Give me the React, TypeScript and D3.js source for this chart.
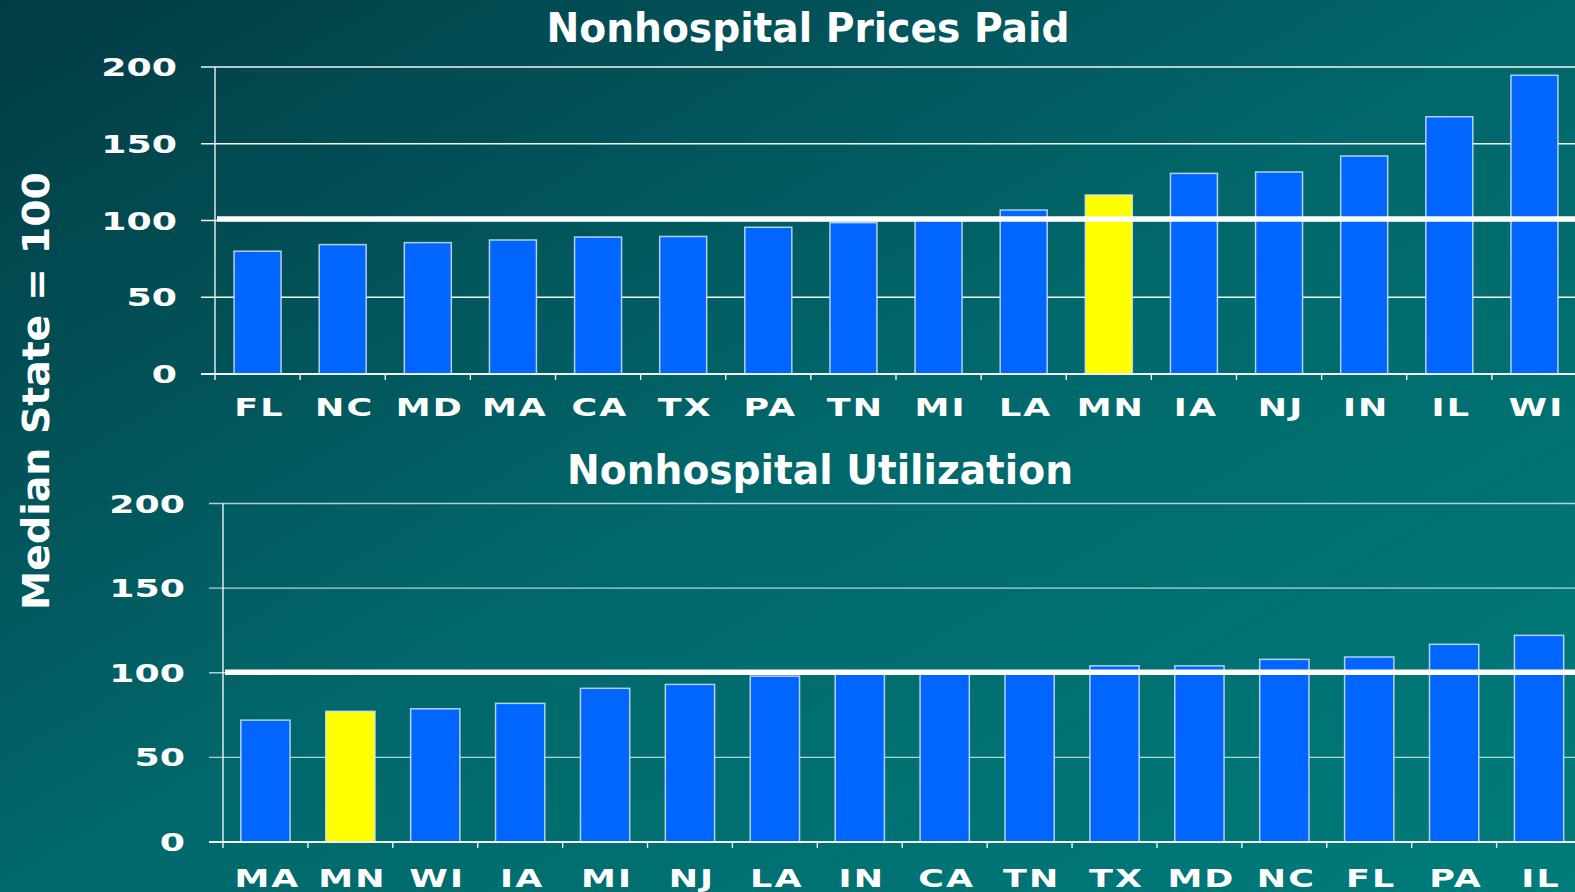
import { useEffect, useRef } from "react"
import * as d3 from "d3"

// Top panel: Nonhospital Prices Paid (Median State = 100)
const priceStates = ["FL", "NC", "MD", "MA", "CA", "TX", "PA", "TN", "MI", "LA", "MN", "IA", "NJ", "IN", "IL", "WI"]
const priceValues = [80, 84.3, 85.6, 87.3, 89.2, 89.6, 95.6, 98.6, 100, 106.8, 116.6, 130.7, 131.6, 142, 167.6, 194.6]
const priceMedianLine = 101

// Bottom panel: Nonhospital Utilization
const utilStates = ["MA", "MN", "WI", "IA", "MI", "NJ", "LA", "IN", "CA", "TN", "TX", "MD", "NC", "FL", "PA", "IL"]
const utilValues = [72, 77.2, 78.7, 81.9, 90.8, 93.1, 98, 100, 100, 100, 104.1, 104.1, 107.9, 109.3, 116.8, 122.1]
const utilMedianLine = 100.3

const yTicks = [0, 50, 100, 150, 200]
const highlightState = "MN"

const W = 1575
const H = 892

type Panel = {
  title: string
  states: string[]
  values: number[]
  median: number
  axisX: number
  rangeEnd: number
  yBottom: number
  yTop: number
  padding: number
  labelY: number
  titleX: number
  titleY: number
  titleLen: number
  gridOpacity: number
}

const panels: Panel[] = [
  {
    title: "Nonhospital Prices Paid",
    states: priceStates,
    values: priceValues,
    median: priceMedianLine,
    axisX: 215,
    rangeEnd: 1577,
    yBottom: 374,
    yTop: 67,
    padding: 0.448,
    labelY: 416,
    titleX: 808,
    titleY: 42,
    titleLen: 523,
    gridOpacity: 0.95,
  },
  {
    title: "Nonhospital Utilization",
    states: utilStates,
    values: utilValues,
    median: utilMedianLine,
    axisX: 223,
    rangeEnd: 1581.5,
    yBottom: 842,
    yTop: 503.5,
    padding: 0.42,
    labelY: 887,
    titleX: 820,
    titleY: 484,
    titleLen: 506,
    gridOpacity: 0.7,
  },
]

const FONT = "'DejaVu Sans', Verdana, sans-serif"

export default function App() {
  const svgRef = useRef<SVGSVGElement>(null)

  useEffect(() => {
    if (!svgRef.current) return
    const svg = d3.select(svgRef.current)
    svg.selectAll("*").remove()

    // Background gradient
    const defs = svg.append("defs")
    const bg = defs
      .append("linearGradient")
      .attr("id", "bg")
      .attr("x1", "0%")
      .attr("y1", "0%")
      .attr("x2", "100%")
      .attr("y2", "100%")
    bg.append("stop").attr("offset", "0%").attr("stop-color", "#023b44")
    bg.append("stop").attr("offset", "50%").attr("stop-color", "#01676a")
    bg.append("stop").attr("offset", "100%").attr("stop-color", "#007c7b")
    svg.append("rect").attr("width", W).attr("height", H).attr("fill", "url(#bg)")

    // Y axis title
    svg
      .append("text")
      .attr("transform", "translate(49,391) rotate(-90)")
      .attr("text-anchor", "middle")
      .attr("fill", "#ffffff")
      .attr("font-family", FONT)
      .attr("font-weight", "bold")
      .attr("font-size", 37)
      .attr("textLength", 438)
      .attr("lengthAdjust", "spacingAndGlyphs")
      .text("Median State = 100")

    panels.forEach((p) => {
      const g = svg.append("g")

      const x = d3
        .scaleBand()
        .domain(p.states)
        .range([p.axisX, p.rangeEnd])
        .paddingInner(p.padding)
        .paddingOuter(p.padding / 2)

      const y = d3.scaleLinear().domain([0, 200]).range([p.yBottom, p.yTop])

      // title
      g.append("text")
        .attr("x", p.titleX)
        .attr("y", p.titleY)
        .attr("text-anchor", "middle")
        .attr("fill", "#ffffff")
        .attr("font-family", FONT)
        .attr("font-weight", "bold")
        .attr("font-size", 40)
        .attr("textLength", p.titleLen)
        .attr("lengthAdjust", "spacingAndGlyphs")
        .text(p.title)

      // grid lines + y ticks
      g.selectAll(".grid")
        .data(yTicks)
        .enter()
        .append("line")
        .attr("x1", p.axisX - 14)
        .attr("x2", W)
        .attr("y1", (d) => y(d))
        .attr("y2", (d) => y(d))
        .attr("stroke", "#ffffff")
        .attr("stroke-opacity", (d) => (d === 0 ? 1 : p.gridOpacity))
        .attr("stroke-width", 1.3)

      // y tick labels
      g.selectAll(".ylab")
        .data(yTicks)
        .enter()
        .append("text")
        .attr("transform", (d) => `translate(${p.axisX - 38},${y(d) + 9}) scale(1.45,1)`)
        .attr("text-anchor", "end")
        .attr("fill", "#ffffff")
        .attr("font-family", FONT)
        .attr("font-weight", "bold")
        .attr("font-size", 25)
        .text((d) => String(d))

      // bars
      const bars = p.states.map((s, i) => ({ state: s, value: p.values[i] }))
      g.selectAll(".bar")
        .data(bars)
        .enter()
        .append("rect")
        .attr("x", (d) => x(d.state) || 0)
        .attr("width", x.bandwidth())
        .attr("y", (d) => y(d.value))
        .attr("height", (d) => p.yBottom - y(d.value))
        .attr("fill", (d) => (d.state === highlightState ? "#ffff00" : "#0066ff"))
        .attr("stroke", "#d4e2f2")
        .attr("stroke-opacity", 0.85)
        .attr("stroke-width", 1.5)

      // baseline over bars
      g.append("line")
        .attr("x1", p.axisX - 14)
        .attr("x2", W)
        .attr("y1", p.yBottom)
        .attr("y2", p.yBottom)
        .attr("stroke", "#ffffff")
        .attr("stroke-width", 1.3)

      // y axis line
      g.append("line")
        .attr("x1", p.axisX)
        .attr("x2", p.axisX)
        .attr("y1", p.yTop)
        .attr("y2", p.yBottom + 6)
        .attr("stroke", "#ffffff")
        .attr("stroke-width", 1.3)

      // x ticks at band edges
      const edges = p.states.map((s) => (x(s) || 0) + x.bandwidth() / 2 - x.step() / 2)
      g.selectAll(".xtick")
        .data(edges.slice(1))
        .enter()
        .append("line")
        .attr("x1", (d) => d)
        .attr("x2", (d) => d)
        .attr("y1", p.yBottom)
        .attr("y2", p.yBottom + 6)
        .attr("stroke", "#ffffff")
        .attr("stroke-width", 1.3)

      // category labels
      g.selectAll(".xlab")
        .data(p.states)
        .enter()
        .append("text")
        .attr("transform", (d) => `translate(${(x(d) || 0) + x.bandwidth() / 2 + 2},${p.labelY}) scale(1.4,1)`)
        .attr("text-anchor", "middle")
        .attr("fill", "#ffffff")
        .attr("font-family", FONT)
        .attr("font-weight", "bold")
        .attr("font-size", 25)
        .attr("letter-spacing", 1.5)
        .text((d) => d)

      // median reference line
      g.append("line")
        .attr("x1", p.axisX + 2)
        .attr("x2", W)
        .attr("y1", y(p.median))
        .attr("y2", y(p.median))
        .attr("stroke", "#ffffff")
        .attr("stroke-width", 5.5)
    })
  }, [])

  return (
    <svg
      ref={svgRef}
      width={W}
      height={H}
      style={{ position: "fixed", left: 0, top: 0, display: "block" }}
    ></svg>
  )
}
